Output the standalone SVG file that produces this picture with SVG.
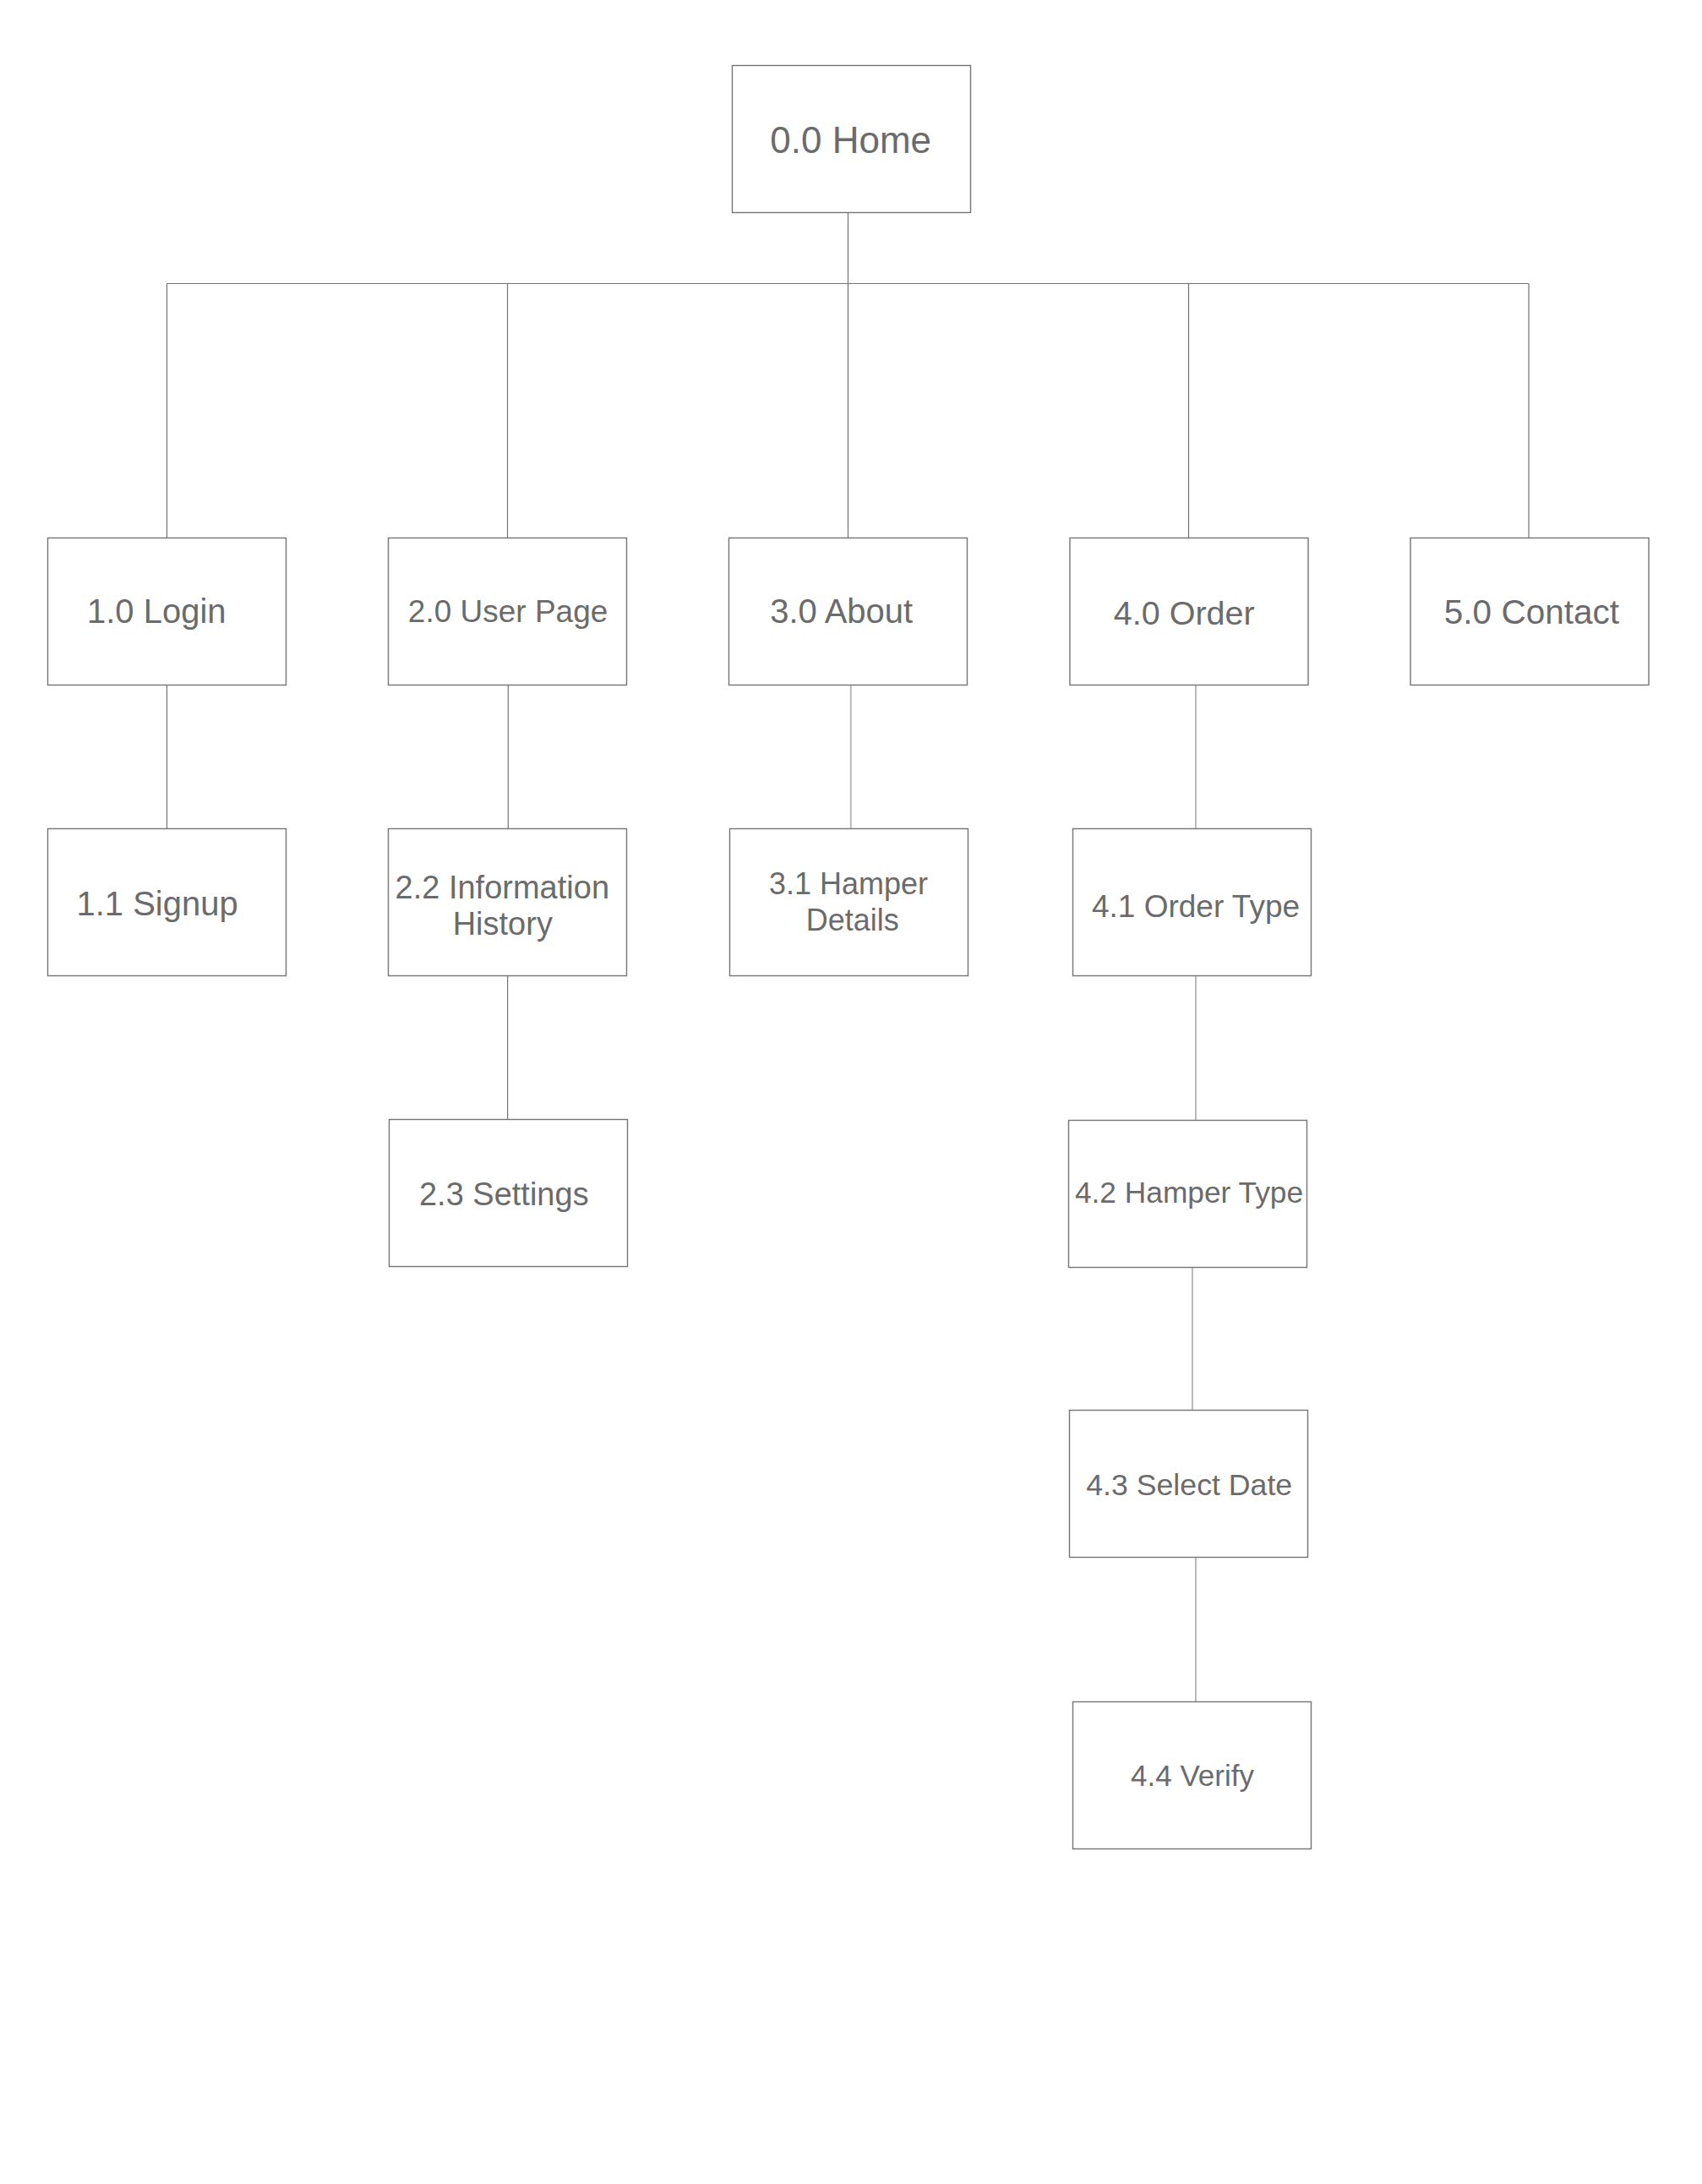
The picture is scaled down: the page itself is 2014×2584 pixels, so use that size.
<svg xmlns="http://www.w3.org/2000/svg" width="2014" height="2584" viewBox="0 0 2014 2584">
<style>
.box{fill:#ffffff;stroke:#747474;stroke-width:1.4}
.t{font-family:"Liberation Sans",Arial,Helvetica,sans-serif;fill:#6b6b6b;text-anchor:middle}
.dk{stroke:#737373;stroke-width:1.2;fill:none}
.lt{stroke:#b3b3b3;stroke-width:1.8;fill:none}
</style>
<rect x="0" y="0" width="2014" height="2584" fill="#ffffff"/>
<g id="connectors">
<line class="dk" x1="1003.5" y1="251.5" x2="1003.5" y2="335.5"/>
<line class="dk" x1="197.5" y1="335.5" x2="1809" y2="335.5"/>
<line class="dk" x1="197.5" y1="335.5" x2="197.5" y2="636.5"/>
<line class="dk" x1="600.5" y1="335.5" x2="600.5" y2="636.5"/>
<line class="dk" x1="1003.5" y1="335.5" x2="1003.5" y2="636.5"/>
<line class="dk" x1="1406.5" y1="335.5" x2="1406.5" y2="636.5"/>
<line class="dk" x1="1809" y1="335.5" x2="1809" y2="636.5"/>
<line class="dk" x1="197.5" y1="810.5" x2="197.5" y2="980.5"/>
<line class="dk" x1="601.3" y1="810.5" x2="601.3" y2="980.5"/>
<line class="dk" x1="600.6" y1="1154.5" x2="600.6" y2="1324.5"/>
<line class="lt" x1="1006.8" y1="810.5" x2="1006.8" y2="980.5"/>
<line class="lt" x1="1415" y1="810.5" x2="1415" y2="980.5"/>
<line class="lt" x1="1415" y1="1154.5" x2="1415" y2="1325.5"/>
<line class="lt" x1="1411" y1="1499.5" x2="1411" y2="1668.5"/>
<line class="lt" x1="1415" y1="1842.5" x2="1415" y2="2013.5"/>
</g>
<g id="home"><rect class="box" x="866.5" y="77.5" width="282" height="174"/><text class="t" x="1006.7" y="180.7" font-size="44">0.0 Home</text></g>
<g id="login"><rect class="box" x="56.5" y="636.5" width="282" height="174"/><text class="t" x="185.3" y="736.7" font-size="40">1.0 Login</text></g>
<g id="userpage"><rect class="box" x="459.5" y="636.5" width="282" height="174"/><text class="t" x="601.1" y="735.7" font-size="37">2.0 User Page</text></g>
<g id="about"><rect class="box" x="862.5" y="636.5" width="282" height="174"/><text class="t" x="995.7" y="736.8" font-size="40">3.0 About</text></g>
<g id="order"><rect class="box" x="1266" y="636.5" width="282" height="174"/><text class="t" x="1401.3" y="739.3" font-size="39.5">4.0 Order</text></g>
<g id="contact"><rect class="box" x="1669" y="636.5" width="282" height="174"/><text class="t" x="1812.4" y="737.5" font-size="40.5">5.0 Contact</text></g>
<g id="signup"><rect class="box" x="56.5" y="980.5" width="282" height="174"/><text class="t" x="186.1" y="1083.2" font-size="40">1.1 Signup</text></g>
<g id="infohistory"><rect class="box" x="459.5" y="980.5" width="282" height="174"/><text class="t" x="594.3" y="1062.5" font-size="38">2.2 Information</text><text class="t" x="594.8" y="1106.4" font-size="38">History</text></g>
<g id="hamperdetails"><rect class="box" x="863.5" y="980.5" width="282" height="174"/><text class="t" x="1004" y="1058.2" font-size="36">3.1 Hamper</text><text class="t" x="1008.7" y="1101" font-size="36">Details</text></g>
<g id="ordertype"><rect class="box" x="1269.5" y="980.5" width="282" height="174"/><text class="t" x="1415" y="1084.6" font-size="37">4.1 Order Type</text></g>
<g id="settings"><rect class="box" x="460.5" y="1324.5" width="282" height="174"/><text class="t" x="596.3" y="1426" font-size="38">2.3 Settings</text></g>
<g id="hampertype"><rect class="box" x="1264.5" y="1325.5" width="282" height="174"/><text class="t" x="1407" y="1423.2" font-size="35.3">4.2 Hamper Type</text></g>
<g id="selectdate"><rect class="box" x="1265.5" y="1668.5" width="282" height="174"/><text class="t" x="1407.2" y="1769" font-size="35.7">4.3 Select Date</text></g>
<g id="verify"><rect class="box" x="1269.5" y="2013.5" width="282" height="174"/><text class="t" x="1411" y="2112.7" font-size="35">4.4 Verify</text></g>
</svg>
